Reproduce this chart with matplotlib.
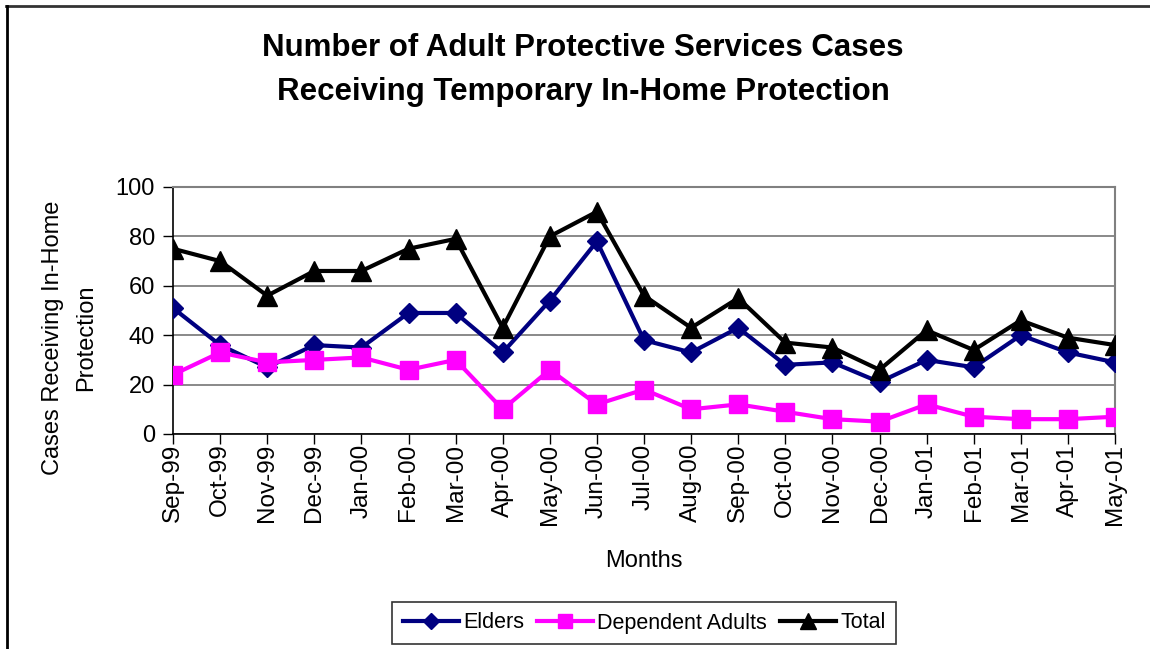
import numpy as np
import matplotlib.pyplot as plt
from matplotlib.lines import Line2D

plt.rcParams['font.family'] = ['Liberation Sans', 'DejaVu Sans']

months = ['Sep-99', 'Oct-99', 'Nov-99', 'Dec-99', 'Jan-00', 'Feb-00', 'Mar-00',
          'Apr-00', 'May-00', 'Jun-00', 'Jul-00', 'Aug-00', 'Sep-00', 'Oct-00',
          'Nov-00', 'Dec-00', 'Jan-01', 'Feb-01', 'Mar-01', 'Apr-01', 'May-01']
elders = [51, 36, 27, 36, 35, 49, 49, 33, 54, 78, 38, 33, 43, 28, 29, 21, 30, 27, 40, 33, 29]
dependent = [24, 33, 29, 30, 31, 26, 30, 10, 26, 12, 18, 10, 12, 9, 6, 5, 12, 7, 6, 6, 7]
total = [75, 70, 56, 66, 66, 75, 79, 43, 80, 90, 56, 43, 55, 37, 35, 26, 42, 34, 46, 39, 36]

fig = plt.figure(figsize=(11.5, 6.49), dpi=100)
ax = fig.add_axes([173 / 1150, 1 - 434 / 649, (1115 - 173) / 1150, (434 - 187) / 649])

x = np.arange(len(months))
ax.plot(x, elders, color='#000080', lw=3, marker='D', ms=10.5, label='Elders', zorder=3)
ax.plot(x, dependent, color='#FF00FF', lw=3, marker='s', ms=13, label='Dependent Adults', zorder=3)
ax.plot(x, total, color='black', lw=3, marker='^', ms=14, label='Total', zorder=4)

ax.set_xlim(0, len(months) - 1)
ax.set_ylim(0, 100)
ax.set_yticks([0, 20, 40, 60, 80, 100])
ax.set_xticks(x)
ax.set_xticklabels(months, rotation=90, fontsize=17.5)
ax.tick_params(axis='y', labelsize=17, direction='out', length=7, width=1, pad=6)
ax.tick_params(axis='x', direction='out', length=7, width=1, pad=0)
ax.grid(axis='y', color='#808080', lw=1.3)
ax.set_axisbelow(True)
for side in ['top', 'right']:
    ax.spines[side].set_color('#808080')
    ax.spines[side].set_linewidth(1.5)
for side in ['left', 'bottom']:
    ax.spines[side].set_color('black')
    ax.spines[side].set_linewidth(1.2)

ax.set_xlabel('Months', fontsize=17, labelpad=18)

# y-axis title, centred a bit below the plot middle as in the original
fig.text(70 / 1150, 1 - 338 / 649, 'Cases Receiving In-Home\nProtection',
         rotation=90, ha='center', va='center', fontsize=17, linespacing=1.65)

fig.text(583 / 1150, 1 - 70 / 649,
         'Number of Adult Protective Services Cases\nReceiving Temporary In-Home Protection',
         ha='center', va='center', fontsize=22.5, fontweight='bold', linespacing=1.6)

fig.legend(loc='center', bbox_to_anchor=(644 / 1150, 1 - 623 / 649), ncol=3,
           fontsize=15.5, frameon=True, fancybox=False, edgecolor='black',
           handlelength=2.6, handletextpad=0.2, columnspacing=0.6, borderpad=0.5)
leg = fig.legends[0]
leg.get_frame().set_linewidth(1.2)
for h in leg.legend_handles:
    h.set_markersize(h.get_markersize() * 0.8)

# outer chart frame (top and left visible)
fig.add_artist(Line2D([6 / 1150, 1], [1 - 6 / 649, 1 - 6 / 649], transform=fig.transFigure,
                      color='#333333', lw=2))
fig.add_artist(Line2D([7 / 1150, 7 / 1150], [0, 1 - 6 / 649], transform=fig.transFigure,
                      color='black', lw=2))

fig.savefig('out.png', dpi=100)
